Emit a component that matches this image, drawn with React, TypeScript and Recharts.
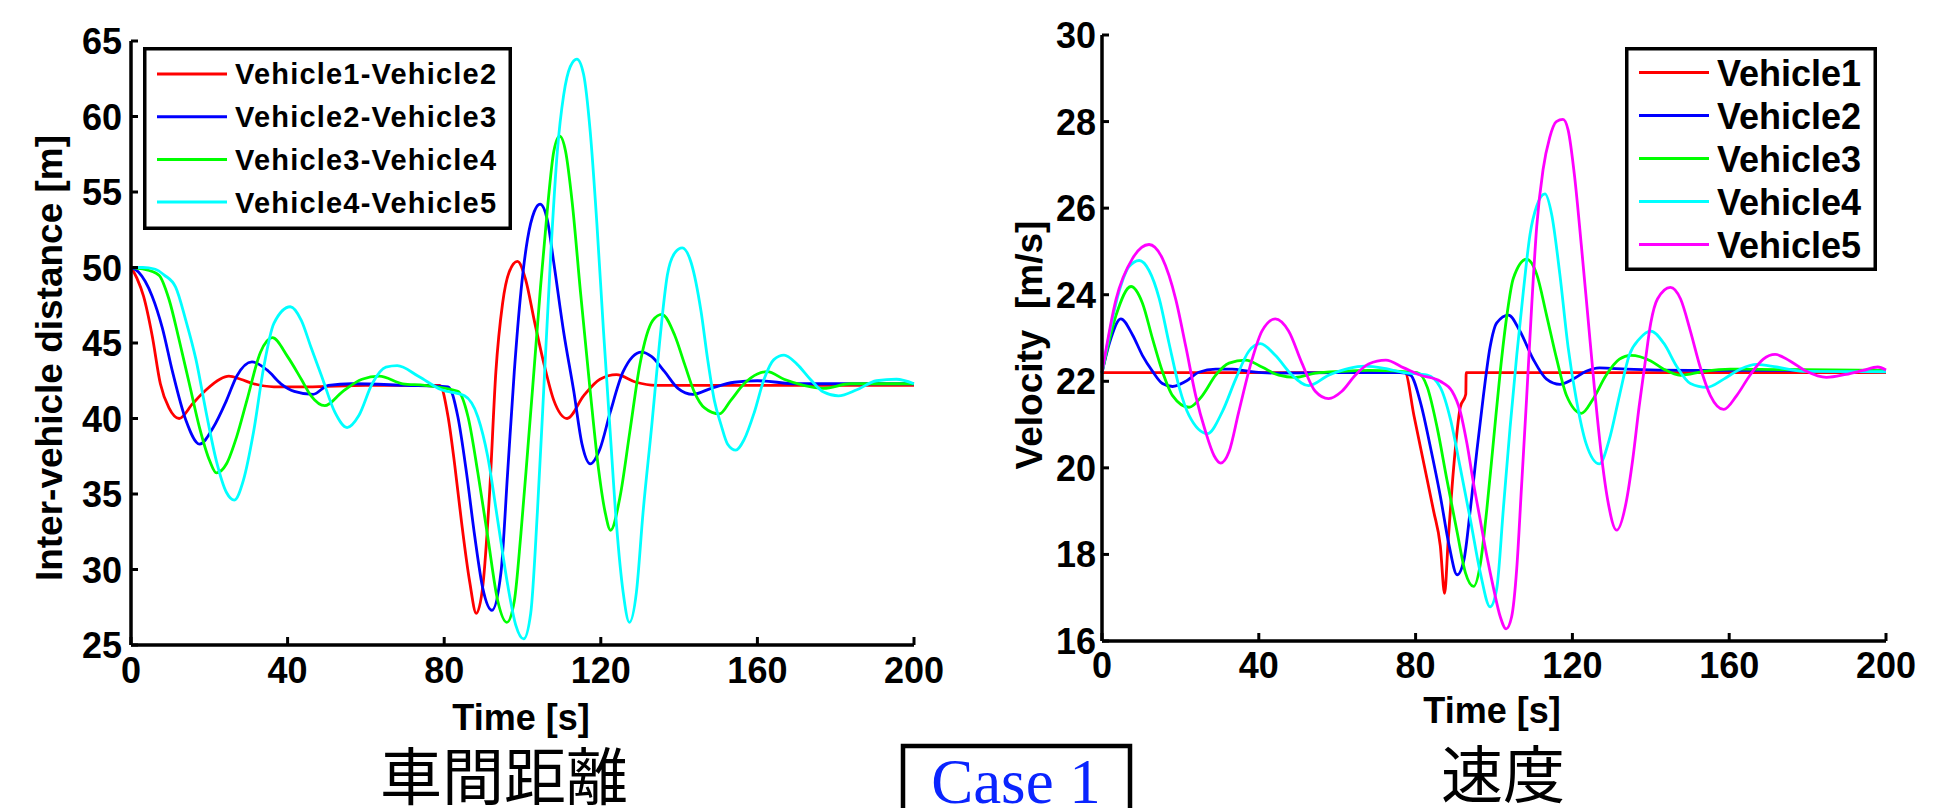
import { LineChart, Line, XAxis, YAxis, Legend } from 'recharts';

type Pair = [number, number];

// time [s] -> inter-vehicle distance [m]
const gap12: Pair[] = [
  [0, 50], [1.5, 49.3], [3.2, 48.1], [5.4, 45.5], [7.5, 42.3], [9.7, 40.7], [12.3, 40.0], [15.8, 41.0],
  [19.2, 41.9], [22.7, 42.6], [25, 42.8], [28, 42.6], [31.3, 42.3], [36.5, 42.1], [45, 42.1], [60, 42.2],
  [78.9, 42.2], [81, 40.1], [82.7, 36.9], [84.4, 33.2], [86.5, 29.2], [88.2, 27.1], [89.9, 29.0], [91.6, 35.1],
  [93.2, 43.1], [94.9, 47.6], [96.6, 49.7], [98.7, 50.4], [100.8, 49.2], [103, 46.5], [105.5, 43.6], [108, 41.2],
  [111.4, 40.0], [115.6, 41.5], [119.8, 42.6], [124, 42.9], [129, 42.4], [134, 42.2], [150, 42.2], [170, 42.2],
  [200, 42.2],
];
const gap23: Pair[] = [
  [0, 50], [1.9, 49.7], [5.4, 48.1], [8, 46], [10.6, 43.1], [14, 39.9], [17.5, 38.3], [21, 39.4], [24.4, 41.2],
  [27, 42.8], [30.9, 43.75], [34.8, 43.2], [38.3, 42.3], [41.7, 41.8], [46.5, 41.6], [50.4, 42.2], [56.4, 42.3],
  [70, 42.2], [81, 42.1], [83.5, 40.1], [85.7, 36.4], [87.8, 32.2], [89.9, 28.7], [92.2, 27.3], [94.5, 29.8],
  [96.2, 36.4], [97.9, 43.1], [99.6, 48.4], [101.3, 51.9], [103, 53.7], [104.5, 54.2], [106.3, 53.2], [108, 50.3],
  [110.5, 45.75], [113.1, 41.8], [115.2, 38.3], [117.3, 37.0], [119.8, 38.0], [122.4, 40.4], [125.7, 43.1],
  [130.4, 44.4], [133, 44.1], [136.3, 43.1], [139.7, 42.0], [143.5, 41.6], [148.2, 42.0], [154.1, 42.4],
  [160, 42.5], [170, 42.3], [200, 42.3],
];
const gap34: Pair[] = [
  [0, 50], [3, 49.9], [7.1, 49.5], [9.7, 47.9], [12.3, 45.2], [14.9, 42.3], [17.5, 39.4], [20.1, 37.2],
  [21.8, 36.4], [24.4, 37.0], [27, 38.8], [29.6, 41.2], [33.1, 44.4], [36.1, 45.35], [40, 44.1], [43.5, 42.6],
  [46, 41.5], [49.5, 40.85], [53.9, 41.75], [59, 42.6], [63.4, 42.8], [69.4, 42.3], [75, 42.2], [83.5, 41.8],
  [86.1, 40.1], [88.6, 36.4], [91.1, 32.2], [93.7, 27.9], [96, 26.5], [97.9, 27.9], [99.6, 32.4], [101.3, 37.8],
  [103, 43.4], [104.6, 48.7], [106.3, 53.7], [108, 57.7], [109.5, 58.7], [111, 57.7], [112.7, 54.3],
  [114.8, 48.4], [117.3, 41.8], [119.4, 36.7], [121.1, 33.8], [122.5, 32.6], [124.9, 34.8], [127.4, 39.1],
  [130, 43.6], [133.3, 46.5], [135.6, 46.9], [138.9, 45.5], [141.4, 43.6], [143.9, 41.75], [146.5, 40.7],
  [150.3, 40.3], [153.2, 41.2], [156.6, 42.3], [160, 42.95], [162.5, 43.1], [166.8, 42.6], [171.8, 42.2],
  [176.9, 42.0], [183.7, 42.3], [200, 42.3],
];
const gap45: Pair[] = [
  [0, 50], [3, 50], [6, 49.9], [8.5, 49.5], [11.4, 48.7], [14, 46.5], [16.6, 43.9], [19.2, 40.4], [21.8, 37.2],
  [24.4, 35.1], [26.4, 34.6], [28.7, 35.9], [31.3, 39.1], [33.9, 43.4], [36.5, 46.3], [40.7, 47.4], [43.5, 46.5],
  [46, 44.7], [48.7, 42.8], [52.1, 40.4], [55.2, 39.4], [58.2, 40.2], [61.6, 42.3], [65.1, 43.4], [68, 43.5],
  [73.4, 42.8], [79.3, 41.9], [85.2, 41.5], [88.6, 40.1], [91.1, 37.5], [93.7, 33.2], [96.2, 29], [98.3, 26.3],
  [100.3, 25.4], [102.1, 27.1], [103.8, 33.8], [105.5, 42.3], [107.2, 50.8], [108.9, 57.7], [110.5, 61.4],
  [112.2, 63.3], [113.9, 63.8], [115.6, 62.8], [117.3, 59], [119, 52.9], [120.7, 45.75], [122.4, 39.1],
  [124, 33], [125.7, 28.5], [127.3, 26.5], [129.1, 28.5], [130.8, 33.8], [133, 39.5], [135, 45], [137, 49.5],
  [139, 51], [140.8, 51.3], [143.1, 50.3], [145.6, 47.1], [147.3, 43.9], [149, 41.2], [150.7, 39.6],
  [152.4, 38.3], [154.5, 37.9], [156.6, 38.6], [159.2, 40.4], [161.7, 42.6], [164.2, 43.9], [166.8, 44.2],
  [170.1, 43.6], [173.5, 42.6], [176.9, 41.75], [180.7, 41.5], [185.4, 41.9], [190.4, 42.5], [195.5, 42.6],
  [200, 42.3],
];

// time [s] -> velocity [m/s]
const vel1: Pair[] = [
  [0, 22.2], [77.3, 22.2], [79.6, 21.2], [82.1, 20.1], [84.6, 19.0], [86.3, 18.2], [87.4, 17.1], [88.3, 18.3],
  [89.7, 20.0], [91.4, 21.4], [92.8, 21.7], [92.9, 22.2], [200, 22.2],
];
const vel2: Pair[] = [
  [0, 22.2], [1.9, 22.88], [4.8, 23.44], [7.8, 23.07], [10.3, 22.6], [12.9, 22.23], [15.4, 21.95], [18, 21.88],
  [21.4, 22.0], [24.7, 22.21], [29, 22.28], [33.2, 22.28], [37.5, 22.23], [44.2, 22.19], [60, 22.2], [76, 22.2],
  [78.7, 22.14], [81.3, 21.49], [83.8, 20.47], [86.3, 19.35], [88.5, 18.23], [90.6, 17.53], [92.3, 17.86],
  [94, 19.07], [95.6, 20.37], [97.3, 21.67], [99, 22.79], [100.7, 23.35], [103.7, 23.53], [106.6, 23.16],
  [110, 22.51], [113.4, 22.05], [116.8, 21.93], [120.2, 22.05], [123.5, 22.23], [126.9, 22.31], [133.7, 22.28],
  [150, 22.25], [200, 22.25],
];
const vel3: Pair[] = [
  [0, 22.2], [3.6, 23.53], [7.4, 24.19], [10.3, 23.81], [12.9, 22.98], [15.4, 22.23], [18, 21.67], [22.2, 21.4],
  [25.6, 21.67], [29, 22.14], [32.4, 22.42], [36.6, 22.49], [40.8, 22.33], [45.1, 22.14], [49.3, 22.09],
  [54.4, 22.19], [61.2, 22.23], [68, 22.25], [80.4, 22.2], [83, 21.86], [85.5, 20.93], [88, 19.72], [90.6, 18.51],
  [92.7, 17.58], [94.8, 17.26], [96.5, 17.77], [98.2, 19.07], [99.9, 20.65], [101.6, 22.23], [103.3, 23.53],
  [104.9, 24.37], [108.3, 24.82], [110.9, 24.47], [113.4, 23.53], [116, 22.51], [118.5, 21.67], [122.3, 21.26],
  [125.2, 21.58], [128.6, 22.14], [132, 22.51], [134.9, 22.6], [140, 22.47], [143.3, 22.28], [147.6, 22.14],
  [153.5, 22.23], [160.3, 22.28], [200, 22.25],
];
const vel4: Pair[] = [
  [0, 22.2], [4.4, 24.09], [6.9, 24.65], [9.5, 24.79], [12, 24.56], [14.6, 23.91], [17.1, 22.88], [19.7, 21.86],
  [22.2, 21.21], [26.9, 20.79], [30.7, 21.3], [34.1, 22.05], [37.5, 22.7], [40.4, 22.87], [44.2, 22.6],
  [48.5, 22.14], [52.7, 21.9], [57.8, 22.14], [63, 22.3], [67, 22.35], [72, 22.3], [77, 22.2], [83, 22.14],
  [86.3, 21.86], [88.9, 21.12], [91.4, 20.0], [94, 18.79], [96.5, 17.58], [99, 16.79], [100.7, 17.21],
  [102.4, 19.07], [104.1, 20.93], [105.8, 22.6], [107.5, 24.09], [109.2, 25.4], [110.9, 26.05], [113, 26.33],
  [114.7, 25.86], [116.8, 24.47], [118.9, 22.79], [121, 21.58], [123.5, 20.56], [126.9, 20.09], [129.4, 20.65],
  [132, 21.67], [134.5, 22.6], [137.1, 22.98], [140, 23.16], [143.3, 22.88], [146.7, 22.33], [150.1, 21.95],
  [154.3, 21.86], [158.6, 22.05], [162.8, 22.28], [167, 22.39], [172.1, 22.33], [178.9, 22.23], [200, 22.22],
];
const vel5: Pair[] = [
  [0, 22.2], [3.6, 23.9], [7.8, 24.84], [12, 25.16], [15.4, 24.84], [18.8, 23.9], [21.4, 22.79], [23.9, 21.67],
  [26.4, 20.84], [28.6, 20.28], [30.3, 20.11], [32.4, 20.37], [34.9, 21.3], [38.3, 22.51], [40.8, 23.16],
  [44.2, 23.44], [47.6, 23.16], [51, 22.42], [54.4, 21.77], [57.8, 21.6], [61.2, 21.77], [64.6, 22.14],
  [68, 22.4], [72.4, 22.49], [77, 22.31], [81.3, 22.14], [86.3, 22.0], [89.3, 21.77], [91.4, 21.3], [93.1, 20.56],
  [94.8, 19.63], [96.5, 18.79], [98.2, 17.95], [99.9, 17.21], [101.6, 16.56], [103.1, 16.28], [104.5, 16.56],
  [105.8, 17.67], [107, 19.53], [108.3, 21.58], [109.6, 23.72], [110.9, 25.58], [112.5, 26.88], [114.2, 27.63],
  [115.9, 28.0], [117.6, 28.05], [118.9, 27.81], [120.6, 26.7], [122.3, 25.12], [124, 23.44], [125.6, 21.86],
  [127.3, 20.37], [129, 19.26], [131.3, 18.56], [133.7, 19.2], [135.4, 20.2], [137, 21.4], [138.5, 22.4],
  [140, 23.35], [141.7, 23.9], [145, 24.17], [147.6, 23.9], [150.1, 23.16], [152.6, 22.33], [155.2, 21.67],
  [158.6, 21.35], [161.9, 21.67], [165.3, 22.14], [168.7, 22.51], [171.7, 22.62], [175.5, 22.47],
  [179.7, 22.23], [184.8, 22.09], [189.8, 22.16], [194.1, 22.25], [197.9, 22.33], [200, 22.26],
];

const timeTicks = [0, 40, 80, 120, 160, 200];
const gapTicks = [25, 30, 35, 40, 45, 50, 55, 60, 65];
const velTicks = [16, 18, 20, 22, 24, 26, 28, 30];

const gapNames = ['Vehicle1-Vehicle2', 'Vehicle2-Vehicle3', 'Vehicle3-Vehicle4', 'Vehicle4-Vehicle5'];
const velNames = ['Vehicle1', 'Vehicle2', 'Vehicle3', 'Vehicle4', 'Vehicle5'];
const COLORS = ['#ff0000', '#0000ff', '#00ff00', '#00ffff', '#ff00ff'];

const FONT = '"Liberation Sans", Arial, Helvetica, sans-serif';
const CJK = '"Noto Sans CJK JP", "Noto Sans CJK SC", sans-serif';

const toPoints = (pairs: Pair[]) => pairs.map(([t, v]) => ({ t, v }));

const axisLine = { stroke: '#000', strokeWidth: 3.5 };

// MATLAB style: ticks point into the plot, bold labels outside
function TimeTick({ x, y, payload, drop }: any) {
  return (
    <g>
      <line x1={x} x2={x} y1={y} y2={y - 8} stroke="#000" strokeWidth={3} />
      <text x={x} y={y + drop} textAnchor="middle" fontFamily={FONT} fontWeight={700} fontSize={36} fill="#000">
        {payload.value}
      </text>
    </g>
  );
}

function ValueTick({ x, y, payload, gap }: any) {
  return (
    <g>
      <line x1={x} x2={x + 7} y1={y} y2={y} stroke="#000" strokeWidth={3} />
      <text x={x - gap} y={y + 13} textAnchor="end" fontFamily={FONT} fontWeight={700} fontSize={36} fill="#000">
        {payload.value}
      </text>
    </g>
  );
}

interface BoxLegendProps {
  payload?: any[];
  width: number;
  height: number;
  rowTop: number;
  rowGap: number;
  fontSize: number;
  letterSpacing?: number;
}

function BoxLegend({ payload = [], width, height, rowTop, rowGap, fontSize, letterSpacing = 0 }: BoxLegendProps) {
  return (
    <svg width={width} height={height} style={{ display: 'block' }}>
      <rect x={1.75} y={1.75} width={width - 3.5} height={height - 3.5} fill="#fff" stroke="#000" strokeWidth={3.5} />
      {payload.map((entry, i) => {
        const cy = rowTop + i * rowGap;
        return (
          <g key={`leg-${i}`}>
            <line x1={14} x2={84} y1={cy} y2={cy} stroke={entry.color} strokeWidth={3} />
            <text
              x={92}
              y={cy + fontSize * 0.36}
              fontFamily={FONT}
              fontWeight={700}
              fontSize={fontSize}
              letterSpacing={letterSpacing}
              fill="#000"
            >
              {entry.value}
            </text>
          </g>
        );
      })}
    </svg>
  );
}

const gapSeries = [gap12, gap23, gap34, gap45];
const velSeries = [vel1, vel2, vel3, vel4, vel5];

export default function App() {
  return (
    <div style={{ position: 'absolute', left: 0, top: 0, width: 1960, height: 808, background: '#fff', overflow: 'hidden' }}>
      <div style={{ position: 'absolute', left: 0, top: 0 }}>
        <LineChart width={960} height={808} margin={{ top: 41, right: 46, bottom: 103, left: 71 }}>
          <XAxis
            dataKey="t"
            type="number"
            domain={[0, 200]}
            ticks={timeTicks}
            interval={0}
            height={60}
            tickSize={0}
            tickMargin={0}
            axisLine={axisLine}
            tickLine={false}
            tick={<TimeTick drop={38} />}
          />
          <YAxis
            type="number"
            domain={[25, 65]}
            ticks={gapTicks}
            interval={0}
            width={60}
            tickSize={0}
            tickMargin={0}
            axisLine={axisLine}
            tickLine={false}
            tick={<ValueTick gap={9} />}
          />
          {gapSeries.map((s, i) => (
            <Line
              key={gapNames[i]}
              data={toPoints(s)}
              dataKey="v"
              name={gapNames[i]}
              type="monotone"
              stroke={COLORS[i]}
              strokeWidth={2.8}
              dot={false}
              isAnimationActive={false}
            />
          ))}
          <Legend
            layout="vertical"
            align="center"
            verticalAlign="middle"
            wrapperStyle={{ left: 143, top: 47, width: 369, height: 183 }}
            content={(p: any) => (
              <BoxLegend payload={p.payload} width={369} height={183} rowTop={27} rowGap={42.7} fontSize={29} letterSpacing={1.2} />
            )}
          />
        </LineChart>
      </div>

      <div style={{ position: 'absolute', left: 980, top: 0 }}>
        <LineChart width={980} height={808} margin={{ top: 35, right: 74, bottom: 107, left: 62 }}>
          <XAxis
            dataKey="t"
            type="number"
            domain={[0, 200]}
            ticks={timeTicks}
            interval={0}
            height={60}
            tickSize={0}
            tickMargin={0}
            axisLine={axisLine}
            tickLine={false}
            tick={<TimeTick drop={37} />}
          />
          <YAxis
            type="number"
            domain={[16, 30]}
            ticks={velTicks}
            interval={0}
            width={60}
            tickSize={0}
            tickMargin={0}
            axisLine={axisLine}
            tickLine={false}
            tick={<ValueTick gap={6} />}
          />
          {velSeries.map((s, i) => (
            <Line
              key={velNames[i]}
              data={toPoints(s)}
              dataKey="v"
              name={velNames[i]}
              type="monotone"
              stroke={COLORS[i]}
              strokeWidth={2.8}
              dot={false}
              isAnimationActive={false}
            />
          ))}
          <Legend
            layout="vertical"
            align="center"
            verticalAlign="middle"
            wrapperStyle={{ left: 645, top: 47, width: 252, height: 224 }}
            content={(p: any) => (
              <BoxLegend payload={p.payload} width={252} height={224} rowTop={25.6} rowGap={43} fontSize={36} />
            )}
          />
        </LineChart>
      </div>

      <svg width={1960} height={808} style={{ position: 'absolute', left: 0, top: 0, pointerEvents: 'none' }}>
        <text
          transform="translate(62,358) rotate(-90)"
          textAnchor="middle"
          fontFamily={FONT}
          fontWeight={700}
          fontSize={37}
          fill="#000"
        >
          Inter-vehicle distance [m]
        </text>
        <text
          transform="translate(1042,345) rotate(-90)"
          textAnchor="middle"
          fontFamily={FONT}
          fontWeight={700}
          fontSize={37}
          fill="#000"
          style={{ whiteSpace: 'pre' }}
        >
          {'Velocity  [m/s]'}
        </text>
        <text x={521} y={730} textAnchor="middle" fontFamily={FONT} fontWeight={700} fontSize={36} fill="#000">
          Time [s]
        </text>
        <text x={1492} y={723} textAnchor="middle" fontFamily={FONT} fontWeight={700} fontSize={36} fill="#000">
          Time [s]
        </text>
        <text x={504} y={800} textAnchor="middle" fontFamily={CJK} fontSize={62} fill="#000">
          車間距離
        </text>
        <text x={1503} y={798} textAnchor="middle" fontFamily={CJK} fontSize={62} fill="#000">
          速度
        </text>
        <rect x={903} y={746} width={227} height={100} fill="none" stroke="#000" strokeWidth={4.5} />
        <text x={1016} y={803} textAnchor="middle" fontFamily='"Liberation Serif", "Times New Roman", serif' fontSize={63} fill="#0a24ff">
          Case 1
        </text>
      </svg>
    </div>
  );
}
